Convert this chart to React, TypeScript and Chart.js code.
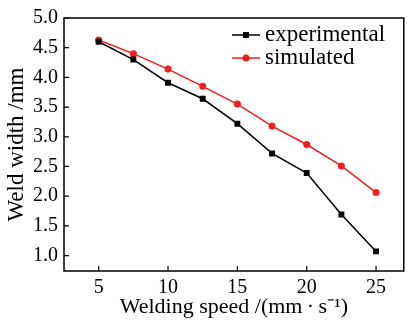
import React, { useEffect, useRef } from "react";
import { Chart, registerables } from "chart.js";

Chart.register(...registerables);

const speeds = [5, 7.5, 10, 12.5, 15, 17.5, 20, 22.5, 25];
const experimental = [4.6, 4.3, 3.91, 3.64, 3.22, 2.72, 2.39, 1.69, 1.07];
const simulated = [4.63, 4.4, 4.14, 3.85, 3.55, 3.18, 2.87, 2.51, 2.06];
const xTicks = [5, 10, 15, 20, 25];
const yTicks = [1.0, 1.5, 2.0, 2.5, 3.0, 3.5, 4.0, 4.5, 5.0];
const seriesLabels = ["experimental", "simulated"];

const FONT = "'Liberation Serif', serif";
const RED = "#f21d1d";

const framePlugin = {
  id: "frameTicks",
  beforeDatasetsDraw(chart: any) {
    const { ctx, chartArea } = chart;
    const { left, right, top, bottom } = chartArea;
    ctx.save();
    ctx.strokeStyle = "#000";
    ctx.lineWidth = 1.5;
    ctx.strokeRect(left, top, right - left, bottom - top);
    ctx.lineWidth = 1.2;
    const xs = chart.scales.x;
    const ys = chart.scales.y;
    ctx.beginPath();
    xTicks.forEach((v) => {
      const px = xs.getPixelForValue(v);
      ctx.moveTo(px, bottom);
      ctx.lineTo(px, bottom - 5);
    });
    yTicks.forEach((v) => {
      const py = ys.getPixelForValue(v);
      ctx.moveTo(left, py);
      ctx.lineTo(left + 5, py);
    });
    ctx.stroke();
    ctx.restore();
  },
  afterDraw(chart: any) {
    const { ctx } = chart;
    ctx.save();
    const items = chart.data.datasets;
    const x0 = 232;
    const x1 = 260;
    const ys0 = [35, 58];
    items.forEach((ds: any, i: number) => {
      const y = ys0[i];
      ctx.strokeStyle = ds.borderColor;
      ctx.fillStyle = ds.pointBackgroundColor;
      ctx.lineWidth = 1.5;
      ctx.beginPath();
      ctx.moveTo(x0, y);
      ctx.lineTo(x1, y);
      ctx.stroke();
      const cx = (x0 + x1) / 2;
      if (ds.pointStyle === "rect") {
        ctx.fillRect(cx - 3, y - 3, 6, 6);
      } else {
        ctx.beginPath();
        ctx.arc(cx, y, 3.5, 0, Math.PI * 2);
        ctx.fill();
      }
      ctx.fillStyle = "#000";
      ctx.font = `23px ${FONT}`;
      ctx.textBaseline = "middle";
      ctx.textAlign = "left";
      ctx.fillText(ds.label, 265, y);
    });
    ctx.restore();
  },
};

export default function App() {
  const ref = useRef<HTMLCanvasElement | null>(null);
  useEffect(() => {
    if (!ref.current) return;
    const chart = new Chart(ref.current, {
      type: "line",
      data: {
        datasets: [
          {
            label: seriesLabels[0],
            data: speeds.map((s, i) => ({ x: s, y: experimental[i] })),
            borderColor: "#000",
            backgroundColor: "#000",
            pointBackgroundColor: "#000",
            pointBorderColor: "#000",
            pointStyle: "rect",
            pointRadius: 4.2,
            pointBorderWidth: 0,
            borderWidth: 1.5,
          },
          {
            label: seriesLabels[1],
            data: speeds.map((s, i) => ({ x: s, y: simulated[i] })),
            borderColor: RED,
            backgroundColor: RED,
            pointBackgroundColor: RED,
            pointBorderColor: RED,
            pointStyle: "circle",
            pointRadius: 3.5,
            pointBorderWidth: 0,
            borderWidth: 1.5,
          },
        ],
      },
      options: {
        responsive: false,
        animation: false,
        layout: { padding: { top: 12, right: 4, left: 0, bottom: 0 } },
        plugins: { legend: { display: false }, tooltip: { enabled: false } },
        scales: {
          x: {
            type: "linear",
            min: 2.5,
            max: 27,
            afterBuildTicks: (s: any) => {
              s.ticks = xTicks.map((v) => ({ value: v }));
            },
            afterFit: (s: any) => {
              s.height = 52;
            },
            grid: { display: false, drawTicks: false },
            border: { display: false },
            ticks: {
              color: "#000",
              font: { family: FONT, size: 20 },
              padding: 5,
              maxRotation: 0,
            },
            title: {
              display: true,
              text: "Welding speed /(mm\u2009·\u2009s\u207B\u00B9)",
              color: "#000",
              font: { family: FONT, size: 22 },
              padding: { top: 0, bottom: 3 },
            },
          },
          y: {
            type: "linear",
            min: 0.74,
            max: 5.0,
            afterBuildTicks: (s: any) => {
              s.ticks = yTicks.map((v) => ({ value: v }));
            },
            afterFit: (s: any) => {
              s.width = 64;
            },
            grid: { display: false, drawTicks: false },
            border: { display: false },
            ticks: {
              color: "#000",
              font: { family: FONT, size: 20 },
              padding: 6,
              callback: (v: any) => Number(v).toFixed(1),
            },
            title: {
              display: true,
              text: "Weld width /mm",
              color: "#000",
              font: { family: FONT, size: 23 },
              padding: { top: 3, bottom: 0 },
            },
          },
        },
      },
      plugins: [framePlugin],
    });
    return () => chart.destroy();
  }, []);
  return (
    <div style={{ position: "absolute", left: 0, top: 0, width: 408, height: 323, background: "#fff" }}>
      <canvas ref={ref} width={408} height={323} />
    </div>
  );
}
